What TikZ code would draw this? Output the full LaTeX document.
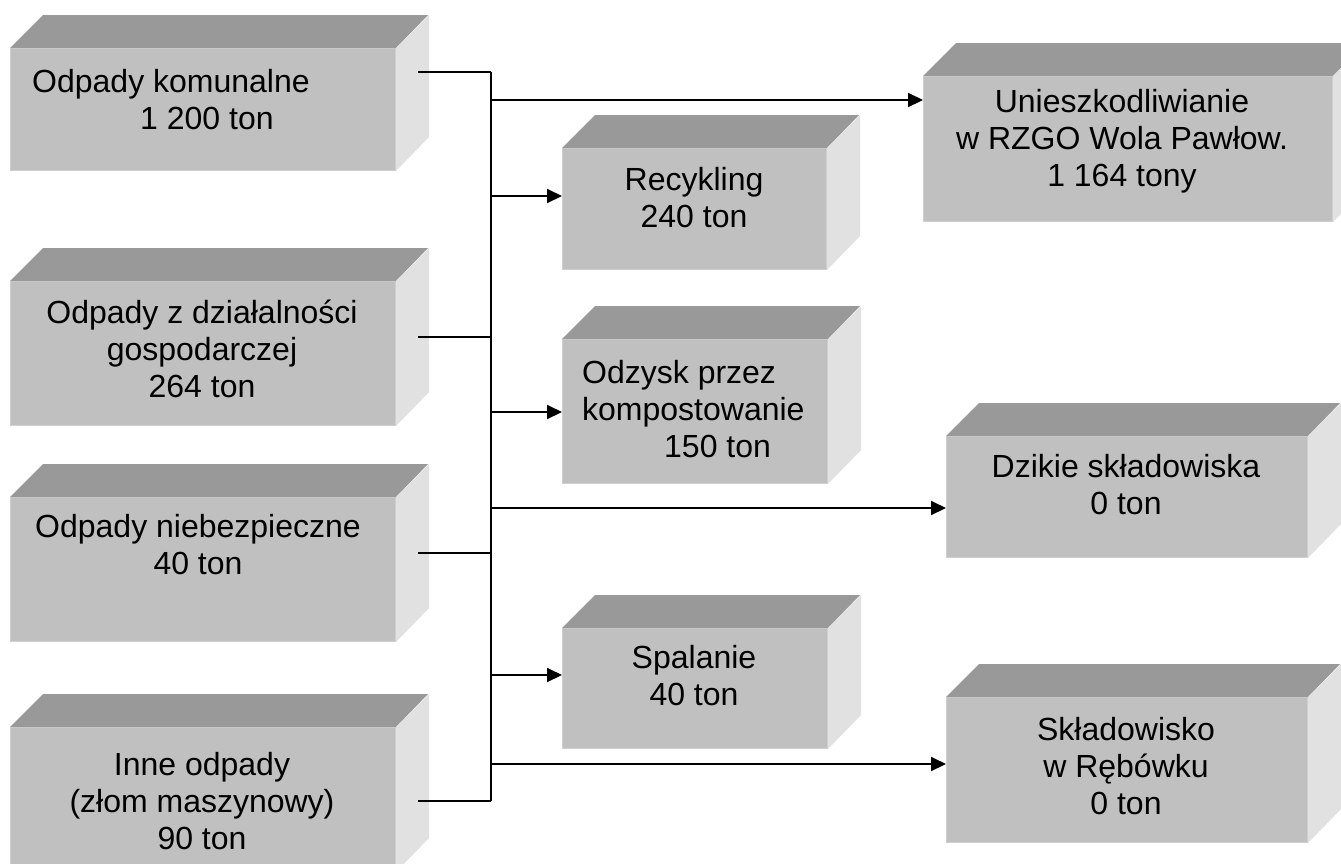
\documentclass[tikz,border=0pt]{standalone}
\usepackage{fontspec}
\setmainfont{Liberation Sans}
\usetikzlibrary{arrows.meta}
\definecolor{topc}{HTML}{999999}
\definecolor{frontc}{HTML}{C0C0C0}
\definecolor{sidec}{HTML}{E1E1E1}
\definecolor{edgec}{HTML}{CFCFCF}
\tikzset{
  front/.style={fill=frontc, draw=edgec, line width=1pt, inner sep=0pt, anchor=north west},
  lbl/.style={font=\fontsize{32}{37}\selectfont, align=center, inner sep=0pt},
  lbll/.style={font=\fontsize{32}{37}\selectfont, align=left, inner sep=0pt, anchor=west},
  conn/.style={line width=2pt, black},
  arr/.style={conn, -{Triangle[length=15pt,width=14pt]}},
}
% name, x, y (top-left of front face), width, height, depth
\newcommand{\wbox}[6]{%
  \node[front, minimum width=#4pt, minimum height=#5pt] (#1) at (#2,#3) {};
  \fill[topc] (#1.north west) -- ++(#6,-#6) -- ++(#4,0) -- (#1.north east) -- cycle;
  \fill[sidec] (#1.north east) -- ++(#6,-#6) -- ++(0,#5) -- (#1.south east) -- cycle;
}
\begin{document}
\begin{tikzpicture}[x=1pt, y=-1pt]
\useasboundingbox (0,0) rectangle (1341,863);
\clip (0,0) rectangle (1341,863);
\fill[white] (0,0) rectangle (1341,863);

% source boxes
\wbox{L1}{10}{48}{385}{122}{33}
\wbox{L2}{10}{281}{385}{144}{33}
\wbox{L3}{10}{497}{385}{144}{33}
\wbox{L4}{10}{727}{385}{144}{33}
% middle boxes
\wbox{M1}{562}{148}{264}{121}{33}
\wbox{M2}{562}{339}{265}{144}{33}
\wbox{M3}{562}{628}{265}{120}{33}
% right boxes
\wbox{R1}{923}{76}{409}{145}{33}
\wbox{R2}{946}{436}{361}{121}{33}
\wbox{R3}{946}{697}{361}{145}{33}

% texts
\node[lbll] (t1) at (32,100) {Odpady komunalne\\\hspace*{108pt}1 200 ton};
\node[lbl] (t2) at (202,349) {Odpady z działalności\\gospodarczej\\264 ton};
\node[lbl] (t3) at (198,545) {Odpady niebezpieczne\\40 ton};
\node[lbl] (t4) at (202,801) {Inne odpady\\(złom maszynowy)\\90 ton};
\node[lbl] (tm1) at (694,198) {Recykling\\240 ton};
\node[lbll] (tm2) at (582,409) {Odzysk przez\\kompostowanie\\\hspace*{82pt}150 ton};
\node[lbl] (tm3) at (694,676) {Spalanie\\40 ton};
\node[lbl] (tr1) at (1122,141) {Unieszkodliwianie\\w RZGO Wola Pawłow.\\1 164 tony};
\node[lbl] (tr2) at (1126,485) {Dzikie składowiska\\0 ton};
\node[lbl] (tr3) at (1126,766) {Składowisko\\w Rębówku\\0 ton};

% bus coordinates
\coordinate (s1) at (418,72);  \coordinate (b1) at (491,72);
\coordinate (s2) at (418,337); \coordinate (b2) at (491,337);
\coordinate (s3) at (418,553); \coordinate (b3) at (491,553);
\coordinate (s4) at (418,801); \coordinate (b4) at (491,801);
\coordinate (a1) at (491,100);
\coordinate (a2) at (491,196);
\coordinate (a3) at (491,412);
\coordinate (a4) at (491,508);
\coordinate (a5) at (491,675);
\coordinate (a6) at (491,764);

\draw[conn] (b1) -- (b4);
\draw[conn] (s1) -- (b1);
\draw[conn] (s2) -- (b2);
\draw[conn] (s3) -- (b3);
\draw[conn] (s4) -- (b4);

\draw[arr] (a1) -- (R1.west |- a1);
\draw[arr] (a2) -- (M1.west |- a2);
\draw[arr] (a3) -- (M2.west |- a3);
\draw[arr] (a4) -- (R2.west |- a4);
\draw[arr] (a5) -- (M3.west |- a5);
\draw[arr] (a6) -- (R3.west |- a6);
\end{tikzpicture}
\end{document}
